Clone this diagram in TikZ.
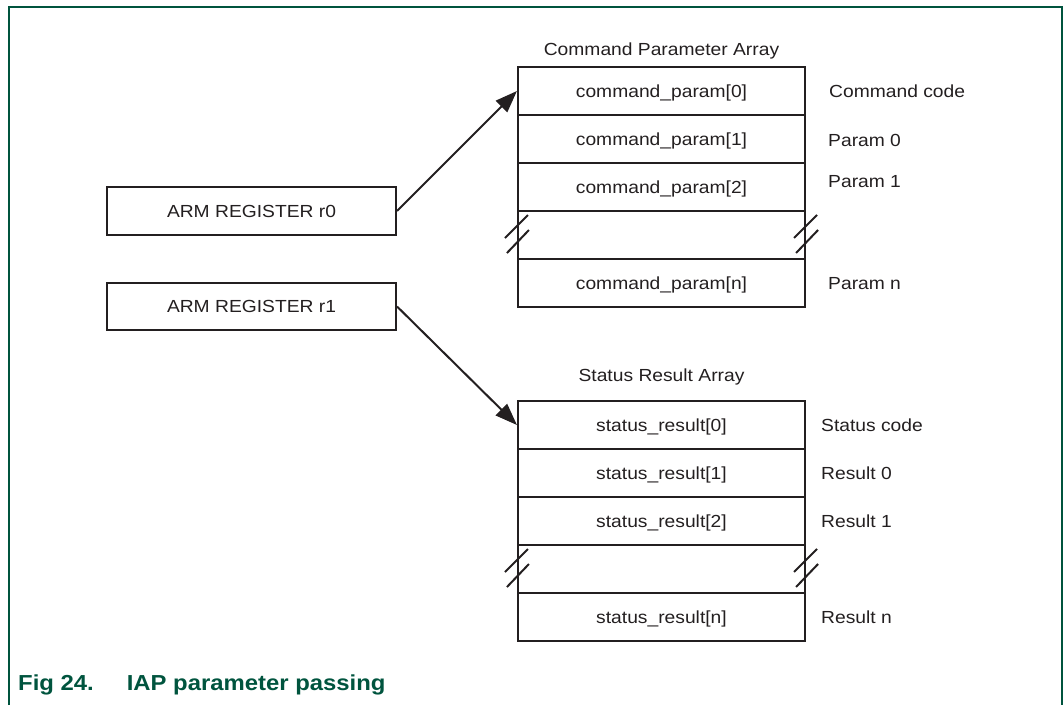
\documentclass[tikz,border=0pt]{standalone}
\usepackage{fontspec}
\setmainfont[FakeStretch=1.1]{Liberation Sans}
\usetikzlibrary{arrows.meta,calc}
\definecolor{framegreen}{RGB}{0,84,62}
\definecolor{ink}{RGB}{35,31,32}
\begin{document}
\begin{tikzpicture}[x=1pt,y=-1pt,
  txt/.style={font=\fontsize{17.5}{20}\selectfont, text=ink, inner sep=0pt},
  cell/.style={txt, draw=ink, line width=2.1pt, minimum width=287pt, minimum height=48pt, text height=12.5pt, text depth=0pt},
  reg/.style={txt, draw=ink, line width=2.1pt, minimum width=289pt, minimum height=48pt, text height=12.5pt, text depth=0pt},
  lbl/.style={txt, anchor=west},
  ptr/.style={draw=ink, line width=2pt, -{Triangle[length=22pt,width=16pt]}},
  brk/.style={draw=ink, line width=2pt}
]
\useasboundingbox (0,0) rectangle (1064,705);
% frame
\draw[framegreen, line width=1.5pt] (9,705) -- (9,7) -- (1062,7) -- (1062,705);

% registers
\node[reg] (r0) at (251.5,211) {ARM REGISTER r0};
\node[reg, minimum height=47pt] (r1) at (251.5,306.5) {ARM REGISTER r1};

% command parameter array
\node[txt] (ctitle) at (661.5,51) {Command Parameter Array};
\node[cell] (c0) at (661.5,91) {command\_param[0]};
\node[cell] (c1) at (661.5,139) {command\_param[1]};
\node[cell] (c2) at (661.5,187) {command\_param[2]};
\node[cell] (c3) at (661.5,235) {};
\node[cell] (c4) at (661.5,283) {command\_param[n]};

\node[lbl] (l0) at (829,91) {Command code};
\node[lbl] (l1) at (828,140) {Param 0};
\node[lbl] (l2) at (828,182) {Param 1};
\node[lbl] (l4) at (828,284) {Param n};

% status result array
\node[txt] (stitle) at (661.5,377) {Status Result Array};
\node[cell] (s0) at (661.5,425) {status\_result[0]};
\node[cell] (s1) at (661.5,473) {status\_result[1]};
\node[cell] (s2) at (661.5,521) {status\_result[2]};
\node[cell] (s3) at (661.5,569) {};
\node[cell] (s4) at (661.5,617) {status\_result[n]};

\node[lbl] (m0) at (821,425) {Status code};
\node[lbl] (m1) at (821,473) {Result 0};
\node[lbl] (m2) at (821,521) {Result 1};
\node[lbl] (m4) at (821,617) {Result n};

% break marks
\foreach \n in {c3,s3}{
  \foreach \a in {west,east}{
    \draw[brk] ($(\n.\a)+(-12,3)$) -- ($(\n.\a)+(11,-20)$);
    \draw[brk] ($(\n.\a)+(-10,18)$) -- ($(\n.\a)+(12,-5)$);
  }
}

% pointers
\draw[ptr] (r0.east) -- (c0.west);
\draw[ptr] (r1.east) -- (s0.west);

% caption
\node[anchor=base west, inner sep=0pt, text=framegreen, font=\fontsize{21.7}{25}\selectfont\bfseries] (cap) at (18,690) {Fig 24.\hspace{33pt}IAP parameter passing};
\end{tikzpicture}
\end{document}
